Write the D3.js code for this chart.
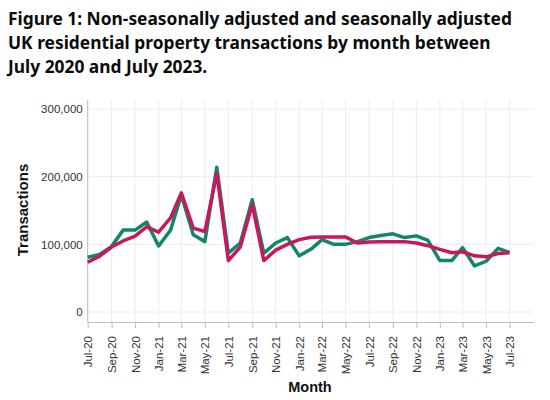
<!DOCTYPE html>
<html>
<head>
<meta charset="utf-8">
<script src="https://cdn.jsdelivr.net/npm/d3@7"></script>
<style>
  body { margin: 0; background: #fff; }
</style>
</head>
<body>
<svg id="chart" width="550" height="400"></svg>
<script>
// Monthly values, Jul-20 .. Jul-23
const months = [
  "2020-07", "2020-08", "2020-09", "2020-10", "2020-11", "2020-12",
  "2021-01", "2021-02", "2021-03", "2021-04", "2021-05", "2021-06",
  "2021-07", "2021-08", "2021-09", "2021-10", "2021-11", "2021-12",
  "2022-01", "2022-02", "2022-03", "2022-04", "2022-05", "2022-06",
  "2022-07", "2022-08", "2022-09", "2022-10", "2022-11", "2022-12",
  "2023-01", "2023-02", "2023-03", "2023-04", "2023-05", "2023-06",
  "2023-07"
];

const nonSeasonal = [
  81000, 85000, 97000, 121000, 121000, 133000,
  97500, 121000, 173000, 114000, 104000, 214000,
  87000, 102000, 166000, 87000, 102000, 110000,
  83000, 93000, 107000, 100000, 100000, 104000,
  110000, 113000, 115500, 110000, 112500, 106000,
  76000, 76000, 95000, 68000, 75000, 94000,
  88000
];

const seasonal = [
  73500, 82500, 96000, 105000, 112000, 126000,
  118000, 139000, 176000, 124000, 119000, 205000,
  76000, 96000, 159000, 76000, 91500, 100000,
  107000, 110500, 111000, 111000, 111000, 102000,
  103500, 104000, 104000, 104000, 102000, 98000,
  92500, 87500, 89000, 83000, 81500, 86500,
  87500
];

const yTicks = [0, 100000, 200000, 300000];

const titleLines = [
  "Figure 1: Non-seasonally adjusted and seasonally adjusted",
  "UK residential property transactions by month between",
  "July 2020 and July 2023."
];

const parseMonth = d3.timeParse("%Y-%m");
const dates = months.map(parseMonth);

const svg = d3.select("#chart");

const plotLeft = 87.7, plotTop = 100, plotBottom = 322, plotRight = 533.5;
const xEnd = d3.timeMonth.offset(dates[dates.length - 1], 2);
const sans = "'Liberation Sans', Arial, sans-serif";

const x = d3.scaleTime()
  .domain([dates[0], xEnd])
  .range([plotLeft, plotRight]);

const y = d3.scaleLinear()
  .domain([0, 300000])
  .range([312, 109]);

// title - size it so the first line fills about the same width as the figure
const title = svg.append("g")
  .selectAll("text")
  .data(titleLines)
  .join("text")
  .attr("x", 8)
  .attr("y", (d, i) => 25 + i * 24)
  .style("font-family", "'Noto Sans', sans-serif")
  .style("font-weight", "bold")
  .style("font-size", "20px")
  .attr("fill", "#0b0c0c")
  .text(d => d);
const w0 = title.node().getComputedTextLength();
const titleSize = Math.min(22, 20 * 504 / w0);
title.style("font-size", titleSize + "px");

// gridlines
const tickDates = dates.filter((d, i) => i % 2 === 0);

svg.append("g")
  .selectAll("line")
  .data(yTicks)
  .join("line")
  .attr("x1", plotLeft)
  .attr("x2", plotRight)
  .attr("y1", d => y(d))
  .attr("y2", d => y(d))
  .attr("stroke", "#ececec");

svg.append("g")
  .selectAll("line")
  .data(tickDates)
  .join("line")
  .attr("x1", d => x(d))
  .attr("x2", d => x(d))
  .attr("y1", plotTop)
  .attr("y2", plotBottom)
  .attr("stroke", "#ececec");

// y axis
const yAxis = svg.append("g")
  .attr("transform", `translate(${plotLeft},0)`)
  .call(d3.axisLeft(y).tickValues(yTicks).tickFormat(d3.format(",")).tickSize(0).tickPadding(5));
yAxis.select(".domain").remove();
yAxis.selectAll("text")
  .style("font-family", sans)
  .style("font-size", "11.5px")
  .attr("fill", "#333");
svg.append("line")
  .attr("x1", plotLeft).attr("x2", plotLeft)
  .attr("y1", plotTop).attr("y2", plotBottom)
  .attr("stroke", "#bdbdbd");

// x axis
const xAxis = svg.append("g")
  .attr("transform", `translate(0,${plotBottom})`)
  .call(d3.axisBottom(x).tickValues(tickDates).tickFormat(d3.timeFormat("%b-%y")).tickSize(6).tickSizeOuter(0));
xAxis.select(".domain").attr("stroke", "#bdbdbd");
xAxis.selectAll(".tick line").attr("stroke", "#bdbdbd");
xAxis.selectAll("text")
  .style("font-family", sans)
  .style("font-size", "11.5px")
  .attr("fill", "#333")
  .attr("transform", "rotate(-90)")
  .attr("text-anchor", "end")
  .attr("x", -14)
  .attr("y", 0)
  .attr("dy", "0.35em");

// axis titles
svg.append("text")
  .attr("transform", "translate(28,210) rotate(-90)")
  .attr("text-anchor", "middle")
  .style("font-family", sans)
  .style("font-weight", "bold")
  .style("font-size", "15px")
  .attr("fill", "#111")
  .text("Transactions");

svg.append("text")
  .attr("x", 310)
  .attr("y", 392)
  .attr("text-anchor", "middle")
  .style("font-family", sans)
  .style("font-weight", "bold")
  .style("font-size", "14.5px")
  .attr("fill", "#111")
  .text("Month");

// lines
const line = d3.line()
  .x((d, i) => x(dates[i]))
  .y(d => y(d));

svg.append("path")
  .datum(nonSeasonal)
  .attr("fill", "none")
  .attr("stroke", "#12866c")
  .attr("stroke-width", 3.5)
  .attr("stroke-linejoin", "round")
  .attr("d", line);

svg.append("path")
  .datum(seasonal)
  .attr("fill", "none")
  .attr("stroke", "#c8175d")
  .attr("stroke-width", 3.5)
  .attr("stroke-linejoin", "round")
  .attr("d", line);
</script>
</body>
</html>
